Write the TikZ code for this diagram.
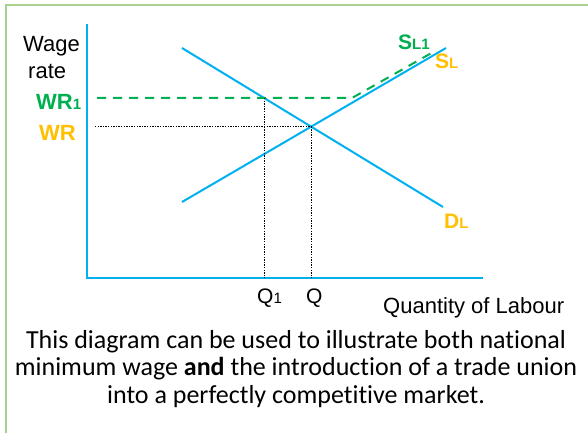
\documentclass[tikz,border=0pt]{standalone}
\usepackage{fontspec}
\setmainfont{Liberation Sans}
\newfontfamily\capfont[Ligatures={NoCommon,NoContextual}]{Carlito}
\usetikzlibrary{calc}
\definecolor{lineblue}{HTML}{00B0F0}
\definecolor{ugreen}{HTML}{00B050}
\definecolor{ugold}{HTML}{FFC000}
\definecolor{framegreen}{HTML}{A9D18E}
\newcommand{\smallsz}{\fontsize{15}{15}\selectfont}
\tikzset{
  curve/.style={draw=lineblue, line width=2pt},
  wagedash/.style={draw=ugreen, line width=2pt, dash pattern=on 9pt off 7pt},
  guide/.style={draw=black, line width=0.8pt, dash pattern=on 1.3pt off 1.3pt},
  lbl/.style={inner sep=0pt, anchor=base west, font=\fontsize{22}{26}\selectfont},
  frame/.style={draw=framegreen, line width=2pt}
}
\begin{document}
\begin{tikzpicture}[x=1pt,y=-1pt]
\useasboundingbox (0,0) rectangle (588,433);
% frame
\coordinate (fbl) at (6,433);
\coordinate (ftl) at (6,5);
\coordinate (ftr) at (588,5);
\draw[frame] (fbl) -- (ftl) -- (ftr);
% axes
\coordinate (ytop) at (87,24);
\coordinate (origin) at (87,278);
\coordinate (xend) at (483,278);
\draw[curve] (ytop) -- (origin) -- (xend);
% curves
\coordinate (d1) at (182,48);
\coordinate (d2) at (443,207);
\coordinate (s1) at (182,202);
\coordinate (s2) at (446,48);
\draw[curve] (d1) -- (d2);
\draw[curve] (s1) -- (s2);
\coordinate (eq) at (intersection of d1--d2 and s1--s2);
% wage floor
\coordinate (g0) at (97,98);
\coordinate (gk) at (352,98);
\coordinate (g1) at (435,51);
\coordinate (gr) at (600,98);
\coordinate (e1) at (intersection of d1--d2 and g0--gr);
\draw[wagedash] (g0) -- (gk) -- (g1);
% guides
\coordinate (wr0) at (95,0);
\coordinate (wrl) at (wr0|-eq);
\coordinate (qb) at (eq|-origin);
\coordinate (q1b) at (e1|-origin);
\draw[guide] (wrl) -- (eq);
\draw[guide] (eq) -- (qb);
\draw[guide] (e1) -- (q1b);
% labels
\node[lbl] (wage) at (23,52) {Wage};
\node[lbl] (rate) at (28,79) {rate};
\node[lbl, text=ugreen, font=\fontsize{22}{26}\selectfont\bfseries] (wr1) at (36,110) {WR{\smallsz 1}};
\node[lbl, text=ugold, font=\fontsize{22}{26}\selectfont\bfseries] (wr) at (39,140) {WR};
\node[lbl, text=ugreen, font=\fontsize{21}{26}\selectfont\bfseries] (sl1) at (398,50) {S{\smallsz L1}};
\node[lbl, text=ugold, font=\fontsize{21}{26}\selectfont\bfseries] (sl) at (435,69) {S{\smallsz L}};
\node[lbl, text=ugold, font=\fontsize{21}{26}\selectfont\bfseries] (dl) at (444,228) {D{\smallsz L}};
\node[lbl, font=\fontsize{21}{26}\selectfont] (q1) at (257,303) {Q{\smallsz 1}};
\node[lbl, font=\fontsize{21}{26}\selectfont] (q) at (306,303) {Q};
\node[lbl] (qol) at (383,313) {Quantity of Labour};
\node[inner sep=0pt, align=center, font=\capfont\fontsize{26}{27.5}\selectfont] (caption) at (296,369)
  {This diagram can be used to illustrate both national\\
   minimum wage \textbf{and} the introduction of a trade union\\
   into a perfectly competitive market.};
\end{tikzpicture}
\end{document}
